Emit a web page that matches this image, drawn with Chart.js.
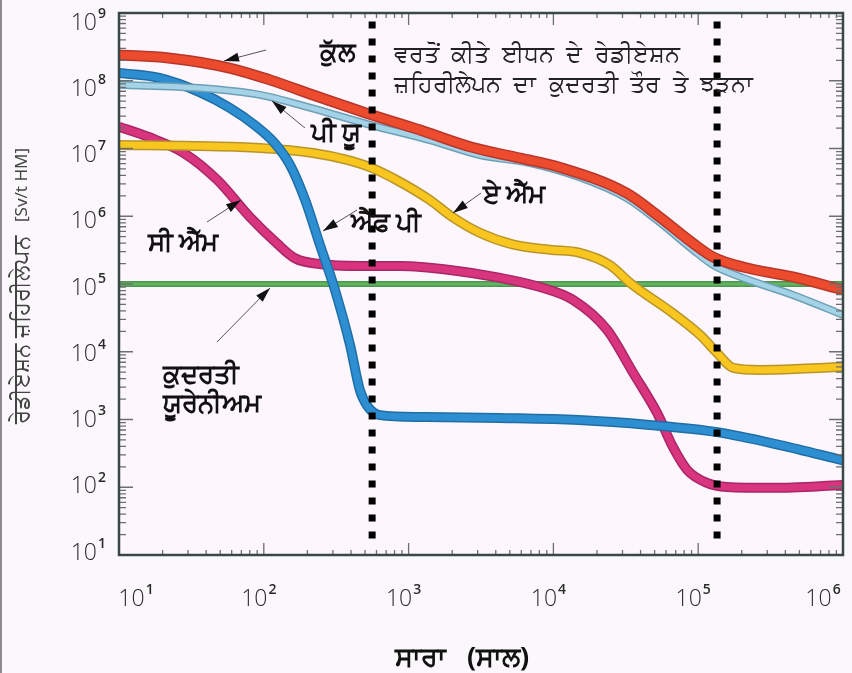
<!DOCTYPE html>
<html>
<head>
<meta charset="utf-8">
<script src="https://cdn.jsdelivr.net/npm/chart.js@4"></script>
<style>
  html, body { margin: 0; padding: 0; background: #fbf8fb; }
  #wrap { width: 852px; height: 673px; }
</style>
</head>
<body>
<div id="wrap"><canvas id="myChart" width="852" height="673"></canvas></div>
<script>
// axes: decades shown as tick labels
const xTickExps = [1, 2, 3, 4, 5, 6];
const yTickExps = [1, 2, 3, 4, 5, 6, 7, 8, 9];

// ਕੁੱਲ (total)
const totalX = [10, 22, 58, 110, 240, 560, 1200, 2700, 5900, 11000, 32000, 54000, 92000, 127000, 204000, 450000, 1e6];
const totalY = [2.4e8, 2.17e8, 1.54e8, 1.03e8, 5.75e7, 3.12e7, 1.87e7, 1.05e7, 7.2e6, 5.3e6, 2.2e6, 9.8e5, 4.0e5, 2.5e5, 1.78e5, 1.27e5, 8.2e4];

// ਪੀ ਯੂ
const puX = [10, 36, 94, 178, 558, 1400, 3100, 6900, 15000, 32000, 54000, 92000, 127000, 204000, 450000, 1e6];
const puY = [8.7e7, 7.8e7, 6.2e7, 4.4e7, 2.2e7, 1.33e7, 8.0e6, 6.1e6, 3.8e6, 1.86e6, 8.2e5, 3.2e5, 1.9e5, 1.23e5, 6.9e4, 3.5e4];

// ਐੱਫ ਪੀ
const fpX = [10, 19, 36, 58, 87, 119, 152, 193, 244, 310, 394, 461, 525, 634, 1200, 4300, 15000, 46000, 135000, 367000, 1e6];
const fpY = [1.3e8, 1.1e8, 6.8e7, 4.0e7, 2.2e7, 1.2e7, 5.7e6, 1.74e6, 3.8e5, 8.2e4, 1.26e4, 2.7e3, 1.53e3, 1.16e3, 1.09e3, 1.05e3, 980, 830, 650, 420, 250];

// ਏ ਐੱਮ
const amX = [10, 36, 94, 219, 376, 541, 832, 1400, 2000, 3100, 5300, 9500, 15000, 24600, 34000, 67000, 103000, 135000, 174000, 267000, 505000, 1e6];
const amY = [1.13e7, 1.09e7, 1.02e7, 8.6e6, 6.8e6, 5.3e6, 3.4e6, 1.74e6, 9.8e5, 5.7e5, 3.8e5, 3.2e5, 2.9e5, 1.9e5, 1.03e5, 3.7e4, 1.77e4, 9.6e3, 5.8e3, 5.4e3, 5.6e3, 6.0e3];

// ਸੀ ਐੱਮ
const cmX = [10, 16, 28, 48, 80, 123, 164, 244, 461, 873, 1930, 4300, 8100, 13700, 23500, 35500, 52000, 67000, 84000, 115000, 158000, 329000, 1e6];
const cmY = [2.1e7, 1.48e7, 8.6e6, 3.4e6, 9.8e5, 4.0e5, 2.4e5, 1.97e5, 1.84e5, 1.84e5, 1.61e5, 1.23e5, 9.0e4, 5.8e4, 2.1e4, 4.9e3, 1.25e3, 390, 180, 116, 101, 98, 108];

// ਕੁਦਰਤੀ ਯੂਰੇਨੀਅਮ
const uraniumX = [10, 1e6];
const uraniumY = [1e5, 1e5];

// dotted markers
const markerX = [560, 135000];
const markerY = [7.5e8, 12.5];

const FONT = '"Noto Sans", "DejaVu Sans", sans-serif';

function pts(xs, ys) {
    return xs.map((x, i) => ({x: x, y: ys[i]}));
}

function band(label, xs, ys, edge, color, w, order) {
    const data = pts(xs, ys);
    const common = {pointRadius: 0, fill: false, cubicInterpolationMode: 'monotone'};
    return [
        Object.assign({label: label, data: data, borderColor: color, borderWidth: w, order: order}, common),
        Object.assign({label: label + '-edge', data: data, borderColor: edge, borderWidth: w + 3, order: order + 1}, common)
    ];
}

const datasets = [].concat(
    band('total', totalX, totalY, '#b8362a', '#ec4b2e', 8, 2),
    band('pu', puX, puY, '#6d9fb6', '#a4d3e8', 5, 4),
    band('fp', fpX, fpY, '#1f6ea6', '#2d8fd1', 7, 6),
    band('am', amX, amY, '#b8952a', '#f8c61f', 7, 8),
    band('cm', cmX, cmY, '#a92668', '#d9357f', 7, 10),
    band('uranium', uraniumX, uraniumY, '#4a994c', '#62b462', 3, 12),
    markerX.map((x, i) => ({
        label: 'marker' + i,
        data: [{x: x, y: markerY[0]}, {x: x, y: markerY[1]}],
        borderColor: '#000',
        borderWidth: 7,
        borderDash: [7, 10],
        borderCapStyle: 'butt',
        pointRadius: 0,
        fill: false,
        order: 0
    }))
);

function drawPow(ctx, exp, x, y, align) {
    ctx.font = '300 23px "Open Sans", ' + FONT;
    const wb = ctx.measureText('10').width;
    ctx.font = '600 14px "Open Sans", ' + FONT;
    const ws = ctx.measureText(String(exp)).width;
    const total = wb + ws + 1;
    let start = x - total / 2;
    if (align === 'right') start = x - total;
    ctx.fillStyle = '#2a2a2a';
    ctx.textAlign = 'left';
    ctx.textBaseline = 'middle';
    ctx.font = '300 23px "Open Sans", ' + FONT;
    ctx.fillText('10', start, y);
    ctx.font = '600 14px "Open Sans", ' + FONT;
    ctx.fillText(String(exp), start + wb + 1, y - 9);
}

function arrow(ctx, x1, y1, x2, y2) {
    const ang = Math.atan2(y2 - y1, x2 - x1);
    ctx.strokeStyle = '#555';
    ctx.lineWidth = 1;
    ctx.beginPath();
    ctx.moveTo(x1, y1);
    ctx.lineTo(x2, y2);
    ctx.stroke();
    const L = 15, W = 4.5;
    ctx.fillStyle = '#111';
    ctx.beginPath();
    ctx.moveTo(x2, y2);
    ctx.lineTo(x2 - L * Math.cos(ang) + W * Math.sin(ang), y2 - L * Math.sin(ang) - W * Math.cos(ang));
    ctx.lineTo(x2 - L * Math.cos(ang) - W * Math.sin(ang), y2 - L * Math.sin(ang) + W * Math.cos(ang));
    ctx.closePath();
    ctx.fill();
}

const framePlugin = {
    id: 'frame',
    beforeDraw(chart) {
        const {ctx, chartArea: a} = chart;
        ctx.save();
        ctx.fillStyle = '#fbf8fb';
        ctx.fillRect(0, 0, chart.width, chart.height);
        ctx.fillStyle = '#fdf6fc';
        ctx.fillRect(a.left, a.top, a.right - a.left, a.bottom - a.top);
        ctx.strokeStyle = '#8c8c8c';
        ctx.lineWidth = 2;
        ctx.beginPath();
        ctx.moveTo(1, 0);
        ctx.lineTo(1, chart.height);
        ctx.stroke();
        ctx.restore();
    },
    afterDatasetsDraw(chart) {
        const {ctx, chartArea: a} = chart;
        const xs = chart.scales.x, ys = chart.scales.y;
        ctx.save();

        // inward ticks on all four sides
        ctx.strokeStyle = '#6b6f70';
        ctx.lineWidth = 1.3;
        ctx.beginPath();
        for (let d = 1; d <= 6; d++) {
            for (let m = 1; m <= 9; m++) {
                const v = m * Math.pow(10, d);
                if (v > 1e6) break;
                const px = xs.getPixelForValue(v);
                const len = m === 1 ? 12 : 5;
                ctx.moveTo(px, a.bottom); ctx.lineTo(px, a.bottom - len);
                ctx.moveTo(px, a.top); ctx.lineTo(px, a.top + len);
            }
        }
        for (let d = 1; d <= 9; d++) {
            for (let m = 1; m <= 9; m++) {
                const v = m * Math.pow(10, d);
                if (v > 1e9) break;
                const py = ys.getPixelForValue(v);
                const len = m === 1 ? 14 : 7;
                ctx.moveTo(a.left, py); ctx.lineTo(a.left + len, py);
                ctx.moveTo(a.right, py); ctx.lineTo(a.right - len, py);
            }
        }
        ctx.stroke();

        ctx.strokeStyle = '#3b4745';
        ctx.lineWidth = 2.5;
        ctx.strokeRect(a.left, a.top, a.right - a.left, a.bottom - a.top);

        // tick labels
        yTickExps.forEach(e => {
            const py = ys.getPixelForValue(Math.pow(10, e));
            drawPow(ctx, e, 106, py + 10 - (9 - e) * 1.5, 'right');
        });
        xTickExps.forEach((e, i) => {
            const px = xs.getPixelForValue(Math.pow(10, e));
            let shift = -5;
            if (i === 0) shift = 17;
            if (i === xTickExps.length - 1) shift = -20;
            drawPow(ctx, e, px + shift, 599, 'center');
        });

        // axis titles
        ctx.fillStyle = '#111';
        ctx.textAlign = 'center';
        ctx.textBaseline = 'middle';
        ctx.font = 'bold 27px ' + FONT;
        ctx.fillText('ਸਾਰਾ   (ਸਾਲ)', 462, 658);

        // y title: Gurmukhi part larger than the unit part
        ctx.save();
        ctx.translate(22, 286);
        ctx.rotate(-Math.PI / 2);
        ctx.fillStyle = '#444';
        const yMain = 'ਰੇਡੀਏਸ਼ਨ ਜ਼ਹਿਰੀਲੇਪਨ';
        const yUnit = '[Sv/t HM]';
        ctx.font = '23px ' + FONT;
        const wMain = ctx.measureText(yMain).width;
        ctx.font = '17px ' + FONT;
        const wUnit = ctx.measureText(yUnit).width;
        const gap = 14;
        const x0 = -(wMain + gap + wUnit) / 2;
        ctx.textAlign = 'left';
        ctx.font = '23px ' + FONT;
        ctx.fillText(yMain, x0, 0);
        ctx.font = '17px ' + FONT;
        ctx.fillText(yUnit, x0 + wMain + gap, 0);
        ctx.restore();

        // curve labels
        ctx.textAlign = 'center';
        ctx.fillStyle = '#111';
        ctx.font = 'bold 26px ' + FONT;
        ctx.fillText('ਕੁੱਲ', 338, 54);
        ctx.fillText('ਪੀ ਯੂ', 336, 134);
        ctx.fillText('ਐੱਫ ਪੀ', 386, 224);
        ctx.fillText('ਏ ਐੱਮ', 514, 196);
        ctx.fillText('ਸੀ ਐੱਮ', 183, 244);
        ctx.textAlign = 'left';
        ctx.fillText('ਕੁਦਰਤੀ', 163, 376);
        ctx.fillText('ਯੂਰੇਨੀਅਮ', 163, 405);

        ctx.font = '24px ' + FONT;
        ctx.fillStyle = '#222';
        ctx.fillText('ਵਰਤੋਂ  ਕੀਤੇ  ਈਧਨ  ਦੇ  ਰੇਡੀਏਸ਼ਨ', 394, 55);
        ctx.fillText('ਜ਼ਹਿਰੀਲੇਪਨ  ਦਾ  ਕੁਦਰਤੀ  ਤੌਰ  ਤੇ  ਝੜਨਾ', 394, 85);

        // pointer arrows
        arrow(ctx, 266, 50, 224, 61);
        arrow(ctx, 305, 128, 272, 101);
        arrow(ctx, 357, 210, 323, 231);
        arrow(ctx, 481, 193, 453, 213);
        arrow(ctx, 207, 222, 241, 200);
        arrow(ctx, 217, 342, 270, 288);

        ctx.restore();
    }
};

const ctx = document.getElementById('myChart').getContext('2d');
const myChart = new Chart(ctx, {
    type: 'line',
    data: {datasets: datasets},
    options: {
        responsive: false,
        animation: false,
        devicePixelRatio: 1,
        layout: {padding: {top: 13, right: 9, left: 0, bottom: 0}},
        scales: {
            x: {
                type: 'logarithmic',
                min: 10,
                max: 1e6,
                grid: {display: false},
                border: {display: false},
                ticks: {display: false},
                afterFit: s => { s.height = 118; }
            },
            y: {
                type: 'logarithmic',
                min: 10,
                max: 1e9,
                grid: {display: false},
                border: {display: false},
                ticks: {display: false},
                afterFit: s => { s.width = 119; }
            }
        },
        plugins: {
            legend: {display: false},
            tooltip: {enabled: false}
        }
    },
    plugins: [framePlugin]
});
</script>
</body>
</html>
